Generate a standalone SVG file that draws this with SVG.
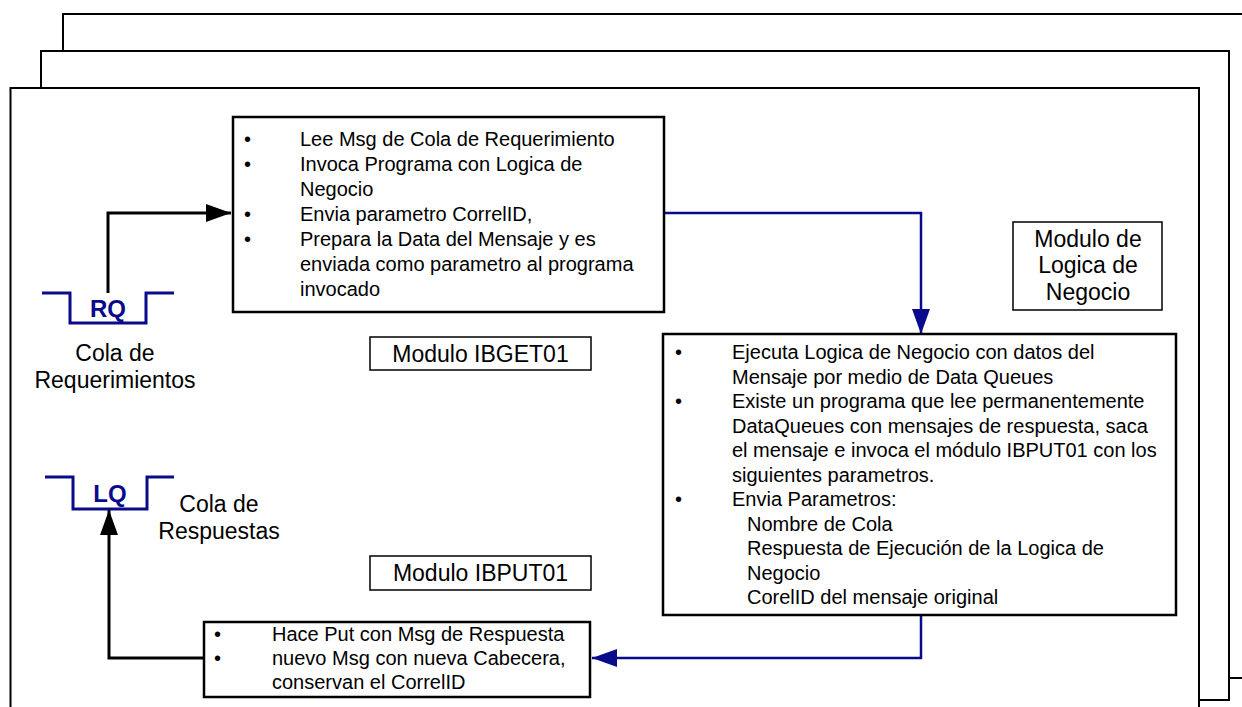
<svg xmlns="http://www.w3.org/2000/svg" width="1242" height="707" viewBox="0 0 1242 707">
  <style>
    .frame { fill: #ffffff; stroke: #000000; stroke-width: 2; }
    .box { fill: #ffffff; stroke: #000000; stroke-width: 2.5; }
    .label { fill: #ffffff; stroke: #000000; stroke-width: 1.5; }
    .queue { fill: none; stroke: #0a0a8c; stroke-width: 3; }
    .t { font-family: "Liberation Sans", Arial, sans-serif; font-size: 20px; fill: #000000; }
    .big { font-family: "Liberation Sans", Arial, sans-serif; font-size: 23px; fill: #000000; text-anchor: middle; }
    .qname { font-family: "Liberation Sans", Arial, sans-serif; font-size: 24px; font-weight: bold; fill: #0a0a8c; text-anchor: middle; }
    .blk { fill: none; stroke: #000000; stroke-width: 3; }
    .blu { fill: none; stroke: #0a0a8c; stroke-width: 2.5; }
  </style>
  <defs>
    <marker id="arrowBlack" markerUnits="userSpaceOnUse" markerWidth="26" markerHeight="18" refX="25" refY="9" orient="auto">
      <path d="M0,0 L25,9 L0,18 Z" fill="#000000"/>
    </marker>
    <marker id="arrowBlue" markerUnits="userSpaceOnUse" markerWidth="26" markerHeight="18" refX="25" refY="9" orient="auto">
      <path d="M0,0 L25,9 L0,18 Z" fill="#0a0a8c"/>
    </marker>
  </defs>
  <rect width="1242" height="707" fill="#ffffff"/>

  <!-- stacked page frames -->
  <g id="frames">
    <rect class="frame" x="63" y="14" width="1200" height="664"/>
    <rect class="frame" x="41" y="51" width="1188" height="649"/>
    <rect class="frame" x="10.5" y="88" width="1188.5" height="640"/>
  </g>

  <!-- connectors -->
  <g id="connectors">
    <polyline class="blk" points="108,293 108,213 231,213" marker-end="url(#arrowBlack)"/>
    <polyline class="blu" points="664,213 921,213 921,334" marker-end="url(#arrowBlue)"/>
    <polyline class="blu" points="921,615 921,658 592,658" marker-end="url(#arrowBlue)"/>
    <polyline class="blk" points="204,658 109,658 109,510" marker-end="url(#arrowBlack)"/>
  </g>

  <!-- request queue -->
  <g id="rq">
    <polyline class="queue" points="42,293 70,293 70,323 146,323 146,293 174,293"/>
    <text class="qname" x="108" y="317">RQ</text>
    <text class="big" x="115" y="361">Cola de</text>
    <text class="big" x="115" y="388">Requerimientos</text>
  </g>

  <!-- response queue -->
  <g id="lq">
    <polyline class="queue" points="45,477 73,477 73,509 147,509 147,477 174,477"/>
    <text class="qname" x="110" y="502">LQ</text>
    <text class="big" x="219" y="512">Cola de</text>
    <text class="big" x="219" y="539">Respuestas</text>
  </g>

  <!-- IBGET01 process box -->
  <g id="ibget">
    <rect class="box" x="233" y="117" width="431" height="195"/>
    <text class="t" x="244" y="146">•</text>
    <text class="t" x="300" y="146">Lee Msg de Cola de Requerimiento</text>
    <text class="t" x="244" y="171">•</text>
    <text class="t" x="300" y="171">Invoca Programa con Logica de</text>
    <text class="t" x="300" y="196">Negocio</text>
    <text class="t" x="244" y="221">•</text>
    <text class="t" x="300" y="221">Envia parametro CorrelID,</text>
    <text class="t" x="244" y="246">•</text>
    <text class="t" x="300" y="246">Prepara la Data del Mensaje y es</text>
    <text class="t" x="300" y="271">enviada como parametro al programa</text>
    <text class="t" x="300" y="296">invocado</text>
  </g>

  <g id="ibget-label">
    <rect class="label" x="370" y="337" width="221" height="33"/>
    <text class="big" x="480.5" y="362">Modulo IBGET01</text>
  </g>

  <!-- business logic module -->
  <g id="logic-label">
    <rect class="label" x="1013" y="222" width="149" height="88"/>
    <text class="big" x="1088" y="247">Modulo de</text>
    <text class="big" x="1088" y="273">Logica de</text>
    <text class="big" x="1088" y="300">Negocio</text>
  </g>

  <g id="logic">
    <rect class="box" x="663" y="334" width="513" height="281"/>
    <text class="t" x="675" y="359">•</text>
    <text class="t" x="732" y="359">Ejecuta Logica de Negocio con datos del</text>
    <text class="t" x="732" y="383.5">Mensaje por medio de Data Queues</text>
    <text class="t" x="675" y="408">•</text>
    <text class="t" x="732" y="408">Existe un programa que lee permanentemente</text>
    <text class="t" x="732" y="432.5">DataQueues con mensajes de respuesta, saca</text>
    <text class="t" x="732" y="457">el mensaje e invoca el módulo IBPUT01 con los</text>
    <text class="t" x="732" y="481.5">siguientes parametros.</text>
    <text class="t" x="675" y="506">•</text>
    <text class="t" x="732" y="506">Envia Parametros:</text>
    <text class="t" x="747" y="530.5">Nombre de Cola</text>
    <text class="t" x="747" y="555">Respuesta de Ejecución de la Logica de</text>
    <text class="t" x="747" y="579.5">Negocio</text>
    <text class="t" x="747" y="604">CorelID del mensaje original</text>
  </g>

  <!-- IBPUT01 process box -->
  <g id="ibput-label">
    <rect class="label" x="370" y="556" width="221" height="34"/>
    <text class="big" x="480.5" y="581">Modulo IBPUT01</text>
  </g>

  <g id="ibput">
    <rect class="box" x="204" y="622" width="386" height="75"/>
    <text class="t" x="214" y="641">•</text>
    <text class="t" x="272" y="641">Hace Put con Msg de Respuesta</text>
    <text class="t" x="214" y="665">•</text>
    <text class="t" x="272" y="665">nuevo Msg con nueva Cabecera,</text>
    <text class="t" x="272" y="689">conservan el CorrelID</text>
  </g>
</svg>
